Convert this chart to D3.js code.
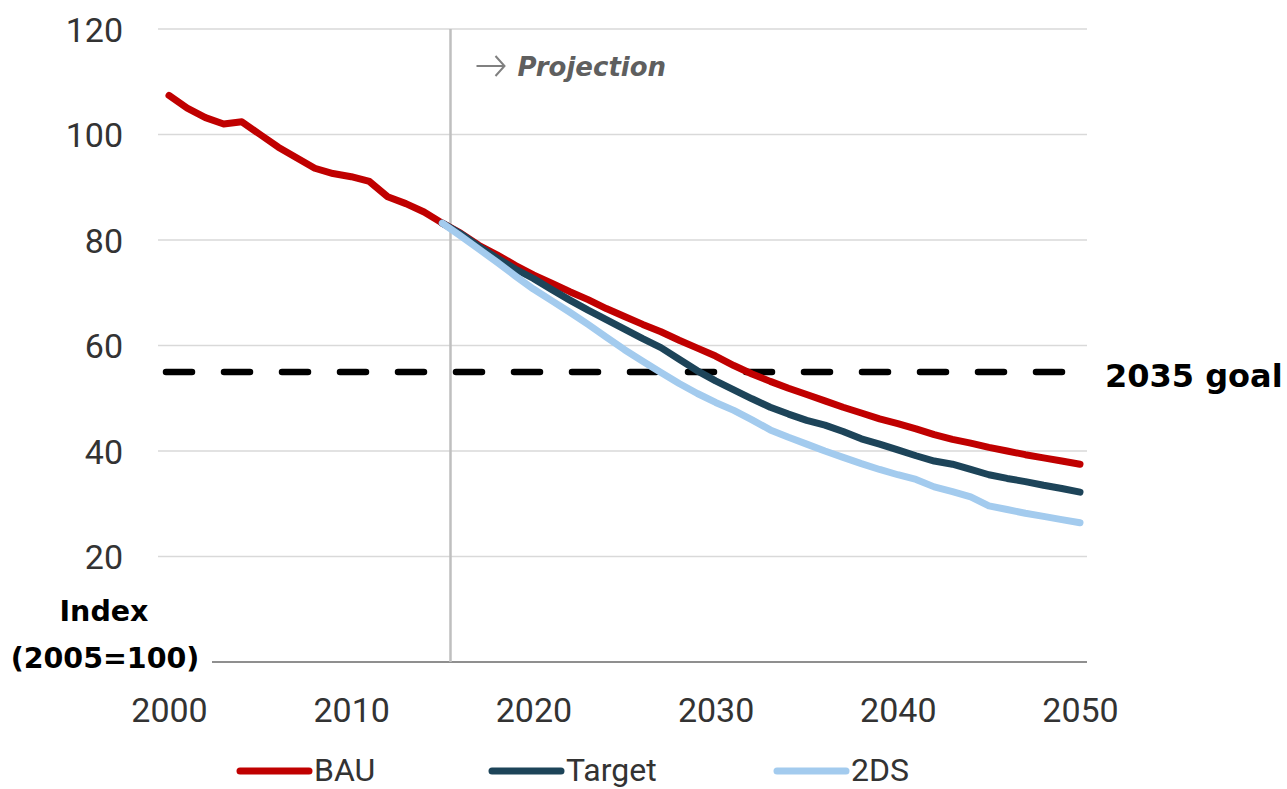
<!DOCTYPE html>
<html>
<head>
<meta charset="utf-8">
<script src="https://cdn.jsdelivr.net/npm/d3@7"></script>
<style>
    body { margin: 0; background: white; }
    .tick { font-family: "Liberation Sans Narrow", "Roboto", sans-serif; font-size: 34px; fill: #333; }
    .bold { font-family: "DejaVu Sans", sans-serif; font-weight: bold; fill: black; }
</style>
</head>
<body>
<svg id="chart" width="1287" height="789"></svg>
<script>

/****DATA****/
const histYears = d3.range(2000, 2016);
const projYears = d3.range(2015, 2051);

const bauHist = [107.4, 105.0, 103.2, 102.0, 102.4, 100.0, 97.6, 95.6, 93.6, 92.6,
    92.0, 91.1, 88.2, 86.9, 85.3, 83.2];
// 2015..2050
const bauProj = [83.2, 81.3, 79.0, 77.2, 75.2, 73.4, 71.8, 70.2, 68.7, 67.0,
    65.5, 64.0, 62.6, 61.0, 59.5, 58.0, 56.2, 54.6, 53.2, 51.9,
    50.7, 49.5, 48.3, 47.2, 46.1, 45.2, 44.2, 43.1, 42.2, 41.5,
    40.7, 40.0, 39.3, 38.7, 38.1, 37.5];
const targetProj = [83.2, 81.2, 78.8, 76.6, 74.5, 72.7, 70.6, 68.6, 66.7, 64.9,
    63.1, 61.3, 59.6, 57.4, 55.2, 53.3, 51.6, 49.9, 48.3, 47.0,
    45.8, 44.9, 43.7, 42.3, 41.3, 40.2, 39.1, 38.1, 37.5, 36.5,
    35.5, 34.8, 34.2, 33.5, 32.9, 32.2];
const twoDSProj = [83.2, 80.8, 78.3, 75.8, 73.2, 70.7, 68.5, 66.3, 64.0, 61.6,
    59.2, 57.0, 54.9, 52.8, 50.9, 49.2, 47.7, 45.9, 44.0, 42.6,
    41.3, 40.0, 38.8, 37.6, 36.5, 35.5, 34.6, 33.2, 32.3, 31.3,
    29.6, 28.9, 28.2, 27.6, 27.0, 26.4];

const goal = 55;
const projStart = 2015.45;
const yTicks = [20, 40, 60, 80, 100, 120];
const xTicks = [2000, 2010, 2020, 2030, 2040, 2050];
const seriesNames = ["BAU", "Target", "2DS"];
const seriesColors = ["#c00000", "#1d4459", "#a3cbee"];

/****SCALES****/
const svg = d3.select("#chart");
const x = d3.scaleLinear().domain([2000, 2050]).range([169, 1080]);
const y = d3.scaleLinear().domain([0, 120]).range([662, 29]);
const left = 158, right = 1087;

// gridlines
svg.append("g").selectAll("line").data(yTicks).enter().append("line")
    .attr("x1", left).attr("x2", right)
    .attr("y1", d => y(d)).attr("y2", d => y(d))
    .attr("stroke", "#d9d9d9").attr("stroke-width", 1.6);

// y labels
const yAxis = d3.axisLeft(y).tickValues(yTicks).tickSize(0).tickPadding(0);
const gy = svg.append("g").attr("transform", "translate(123,0)").call(yAxis);
gy.select(".domain").remove();
gy.selectAll("text").attr("class", "tick").attr("dy", "0.36em");

// x labels
const xAxis = d3.axisBottom(x).tickValues(xTicks).tickFormat(d3.format("d")).tickSize(0).tickPadding(0);
const gx = svg.append("g").attr("transform", "translate(0,698)").call(xAxis);
gx.select(".domain").remove();
gx.selectAll("text").attr("class", "tick").attr("dy", "0.71em");

// bottom axis line
svg.append("line").attr("x1", 212).attr("x2", right)
    .attr("y1", y(0)).attr("y2", y(0))
    .attr("stroke", "#8f8f8f").attr("stroke-width", 2);

// projection marker
const px = x(projStart);
svg.append("line").attr("x1", px).attr("x2", px)
    .attr("y1", y(120)).attr("y2", y(0))
    .attr("stroke", "#bfbfbf").attr("stroke-width", 2.5);
svg.append("path")
    .attr("d", "M" + (px + 26) + ",66 H" + (px + 54) + " M" + (px + 45) + ",56 L" + (px + 54) + ",66 L" + (px + 45) + ",76")
    .attr("fill", "none").attr("stroke", "#808080").attr("stroke-width", 2);
svg.append("text").attr("x", px + 67).attr("y", 76)
    .style("font-family", "'DejaVu Sans', sans-serif").style("font-size", "26px")
    .style("font-weight", "bold").style("font-style", "italic")
    .style("fill", "#5f5f5f").text("Projection");

// goal line
svg.append("line").attr("x1", 166).attr("x2", 1074)
    .attr("y1", y(goal)).attr("y2", y(goal))
    .attr("stroke", "black").attr("stroke-width", 6.5)
    .attr("stroke-linecap", "round").attr("stroke-dasharray", "26 32");
svg.append("text").attr("class", "bold").attr("x", 1105).attr("y", y(goal) + 15)
    .style("font-size", "32px").text("2035 goal");

/****LINES****/
const line = d3.line().x(d => x(d[0])).y(d => y(d[1]));

function drawLine(yrs, vals, color) {
    svg.append("path").datum(yrs.map((yr, i) => [yr, vals[i]]))
        .attr("d", line).attr("fill", "none")
        .attr("stroke", color).attr("stroke-width", 7)
        .attr("stroke-linejoin", "round").attr("stroke-linecap", "round");
}

drawLine(histYears, bauHist, seriesColors[0]);
drawLine(projYears, bauProj, seriesColors[0]);
drawLine(projYears, targetProj, seriesColors[1]);
drawLine(projYears, twoDSProj, seriesColors[2]);

// index label
svg.append("text").attr("class", "bold").attr("x", 104).attr("y", 621)
    .attr("text-anchor", "middle").style("font-size", "28.5px").text("Index");
svg.append("text").attr("class", "bold").attr("x", 105).attr("y", 668)
    .attr("text-anchor", "middle").style("font-size", "28.5px").text("(2005=100)");

/****LEGEND****/
const legendX = [240, 492, 777];
seriesNames.forEach(function (name, i) {
    const g = svg.append("g").attr("transform", "translate(" + legendX[i] + ",771)");
    g.append("line").attr("x1", 0).attr("x2", 69).attr("y1", 0).attr("y2", 0)
        .attr("stroke", seriesColors[i]).attr("stroke-width", 7).attr("stroke-linecap", "round");
    g.append("text").attr("class", "tick").attr("x", 74).attr("y", 10)
        .style("font-size", "32px").text(name);
});

</script>
</body>
</html>
